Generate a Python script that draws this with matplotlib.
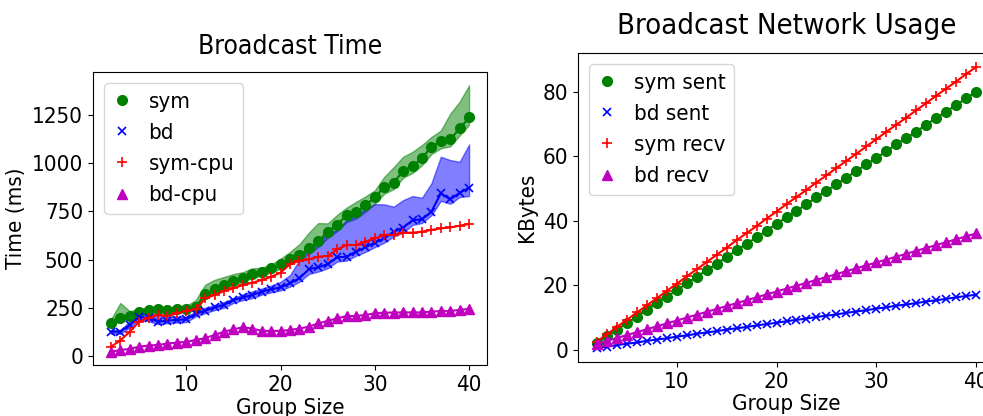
import matplotlib
matplotlib.use("Agg")
import matplotlib.pyplot as plt
from matplotlib.lines import Line2D

group_size = list(range(2, 41))

# Broadcast time (ms)
sym_mean = [173, 195, 205, 230, 240, 242, 240, 242, 245,
            255, 320, 345, 370, 390, 405, 425, 435, 455, 475,
            503, 524, 558, 596, 645, 681, 730, 745, 783, 823,
            877, 899, 961, 985, 1027, 1086, 1115, 1124, 1181, 1238]
sym_lo = [160, 180, 190, 215, 225, 228, 228, 230, 232,
          240, 300, 325, 350, 370, 385, 405, 415, 433, 452,
          478, 498, 530, 566, 612, 648, 695, 712, 748, 790,
          842, 866, 925, 950, 990, 1048, 1078, 1088, 1145, 1200]
sym_hi = [190, 275, 232, 245, 250, 252, 252, 254, 260,
          290, 370, 395, 410, 425, 435, 455, 458, 475, 505,
          540, 580, 640, 690, 688, 732, 770, 800, 828, 860,
          930, 980, 1034, 1060, 1095, 1137, 1170, 1258, 1320, 1405]
bd_mean = [126, 126, 161, 204, 195, 178, 183, 187, 190,
           218, 235, 252, 265, 290, 304, 316, 334, 346, 356,
           377, 403, 450, 460, 477, 512, 515, 541, 564, 588,
           610, 645, 666, 705, 709, 749, 844, 813, 847, 873]
bd_lo = [115, 115, 148, 190, 180, 165, 170, 173, 176,
         205, 222, 238, 250, 275, 290, 300, 318, 330, 340,
         360, 385, 425, 438, 455, 490, 495, 520, 540, 565,
         588, 620, 640, 680, 690, 730, 805, 790, 825, 830]
bd_hi = [135, 135, 180, 215, 215, 210, 205, 205, 205,
         230, 250, 265, 280, 300, 320, 335, 350, 365, 385,
         420, 498, 567, 593, 633, 654, 705, 731, 761, 788,
         787, 775, 809, 830, 821, 896, 1034, 1017, 1008, 1098]
sym_cpu = [48, 80, 126, 178, 199, 213, 207, 221, 235,
           242, 299, 316, 337, 351, 368, 380, 394, 411, 432,
           477, 493, 501, 515, 519, 553, 576, 576, 593, 610,
           628, 628, 640, 640, 645, 654, 662, 667, 676, 685]
bd_cpu = [22, 30, 37, 48, 54, 57, 64, 69, 73,
          83, 92, 109, 126, 138, 149, 142, 130, 130, 130,
          135, 142, 152, 169, 182, 195, 207, 207, 213, 221,
          225, 225, 226, 226, 226, 230, 233, 233, 239, 244]

# Network usage (KBytes)
sym_sent = [2.0, 4.1, 6.2, 8.2, 10.2, 12.3, 14.3, 16.4, 18.4,
            20.5, 22.6, 24.6, 26.6, 28.7, 30.8, 32.8, 34.8, 36.9, 39.0,
            41.0, 43.0, 45.1, 47.2, 49.2, 51.2, 53.3, 55.4, 57.4, 59.4,
            61.5, 63.6, 65.6, 67.6, 69.7, 71.8, 73.8, 75.8, 77.9, 80.0]
bd_sent = [0.5, 0.9, 1.4, 1.8, 2.2, 2.7, 3.1, 3.5, 4.0,
           4.4, 4.9, 5.3, 5.7, 6.2, 6.6, 7.0, 7.5, 7.9, 8.3,
           8.8, 9.2, 9.6, 10.1, 10.5, 10.9, 11.4, 11.8, 12.2, 12.7,
           13.1, 13.6, 14.0, 14.4, 14.9, 15.3, 15.7, 16.2, 16.6, 17.0]
sym_recv = [2.5, 4.7, 7.0, 9.2, 11.5, 13.7, 15.9, 18.2, 20.4,
            22.7, 24.9, 27.1, 29.4, 31.6, 33.9, 36.1, 38.3, 40.6, 42.8,
            45.1, 47.3, 49.5, 51.8, 54.0, 56.3, 58.5, 60.7, 63.0, 65.2,
            67.5, 69.7, 71.9, 74.2, 76.4, 78.7, 80.9, 83.1, 85.4, 87.6]
bd_recv = [1.8, 2.7, 3.6, 4.5, 5.4, 6.3, 7.2, 8.1, 9.0,
           9.9, 10.8, 11.7, 12.6, 13.5, 14.4, 15.3, 16.2, 17.1, 18.0,
           18.9, 19.8, 20.7, 21.6, 22.5, 23.4, 24.3, 25.2, 26.1, 27.0,
           27.9, 28.8, 29.7, 30.6, 31.5, 32.4, 33.3, 34.2, 35.1, 36.0]

plt.rcParams['font.family'] = ['DejaVu Sans']
plt.rcParams['font.stretch'] = 'condensed'
plt.rcParams['font.size'] = 16

W, H = 983, 416
fig = plt.figure(figsize=(W / 100, H / 100), dpi=100)


def px_axes(left, top, right, bottom):
    return fig.add_axes([left / W, 1 - bottom / H, (right - left) / W, (bottom - top) / H])


def legend_handles(styles, labels):
    return [Line2D([], [], ls='none', color=c, marker=m, markersize=ms, mew=mw, label=l)
            for (c, m, ms, mw), l in zip(styles, labels)]


styles = [('g', 'o', 7, 1), ('b', 'x', 6, 1.2), ('r', '+', 6.5, 1.2), ('m', '^', 7, 1)]

# left: broadcast time
ax = px_axes(93, 72, 487, 365)
ax.fill_between(group_size, sym_lo, sym_hi, color='g', alpha=0.5)
ax.fill_between(group_size, bd_lo, bd_hi, color='b', alpha=0.5)
for vals, (c, m, ms, mw) in zip([sym_mean, bd_mean, sym_cpu, bd_cpu], styles):
    ax.plot(group_size, vals, color=c, marker=m, markersize=ms, mew=mw, lw=1.5)
ax.set_title("Broadcast Time", fontsize=19, pad=13)
ax.set_xlabel("Group Size", labelpad=2)
ax.set_ylabel("Time (ms)")
ax.set_xticks([10, 20, 30, 40])
ax.set_yticks([0, 250, 500, 750, 1000, 1250])
ax.legend(handles=legend_handles(styles, ["sym", "bd", "sym-cpu", "bd-cpu"]),
          loc='upper left', handlelength=0.8, fontsize=16)

# right: network usage
ax2 = px_axes(578, 53, 995, 362)
for vals, (c, m, ms, mw) in zip([sym_sent, bd_sent, sym_recv, bd_recv], styles):
    ax2.plot(group_size, vals, color=c, marker=m, markersize=ms, mew=mw, lw=1.5)
ax2.set_title("Broadcast Network Usage", fontsize=21, pad=14)
ax2.set_xlabel("Group Size", labelpad=2)
ax2.set_ylabel("KBytes")
ax2.set_xticks([10, 20, 30, 40])
ax2.set_yticks([0, 20, 40, 60, 80])
ax2.legend(handles=legend_handles(styles, ["sym sent", "bd sent", "sym recv", "bd recv"]),
           loc='upper left', handlelength=0.8, fontsize=16)

fig.savefig("out.png", dpi=100)
